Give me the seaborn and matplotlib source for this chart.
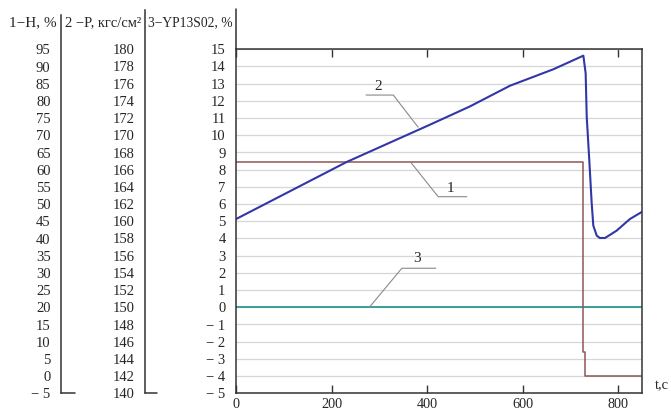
import matplotlib
matplotlib.use("Agg")
import matplotlib.pyplot as plt
from matplotlib.lines import Line2D
import seaborn as sns
import numpy as np

# ---------------- data ----------------
# curve 1: H, %
t_h = [0, 726.6, 726.6, 730, 730, 850]
h_vals = [62.25, 62.25, 6.95, 6.95, 0.0, 0.0]
# curve 2: P, kgf/cm2
t_p = [0, 231.6, 406, 489.5, 573, 664, 726.7, 731.5, 733.7, 739, 744,
       747.5, 754.6, 761, 772, 796, 824, 850]
p_vals = [160.26, 166.9, 171.24, 173.36, 175.76, 177.68, 179.26, 177.2,
          172.2, 167.2, 162.2, 159.5, 158.34, 158.06, 158.06, 158.9,
          160.26, 161.12]
# curve 3: YP13S02, %
t_y = [0, 850]
y_vals = [0.0, 0.0]

main_ticks = list(range(-5, 16))
h_ticks = list(range(-5, 100, 5))
p_ticks = list(range(140, 181, 2))
x_ticks = [0, 200, 400, 600, 800]

headers = ["1−H, %", "2 −P, кгс/см²", "3−YP13S02, %"]

# common axis conversions (scales of the original chart)
def h_to_axis(v):
    return (np.asarray(v, float) - 20) / 5

def p_to_axis(v):
    return (np.asarray(v, float) - 150) / 2

def fmt(v):
    return f"− {abs(v)}" if v < 0 else str(v)

# ---------------- style ----------------
sns.set_style("white")
plt.rcParams['font.family'] = ['Liberation Serif', 'DejaVu Serif']
plt.rcParams['font.size'] = 10

W, H = 671, 413
fig = plt.figure(figsize=(W / 100, H / 100), dpi=100)

def fx(px):
    return px / W

def fy(py):
    return 1 - py / H

top_px, bot_px, left_px, right_px = 49.3, 393.3, 236, 642.3
ppu = (bot_px - top_px) / 20.0

ax = fig.add_axes([fx(left_px), fy(bot_px), fx(right_px - left_px),
                   (bot_px - top_px) / H])
ax.set_xlim(0, 850)
ax.set_ylim(-5, 15)

ax.set_yticks(main_ticks)
ax.set_yticklabels([fmt(v) for v in main_ticks])
ax.yaxis.grid(True, color="#d6d6d6", lw=0.9)
ax.xaxis.grid(False)
ax.set_axisbelow(True)
ax.tick_params(axis="y", length=0, pad=7.5, labelsize=10.5)
ax.set_xticks(x_ticks)
ax.set_xticklabels([str(v) for v in x_ticks])
ax.tick_params(axis="x", direction="in", length=6, width=1, top=True,
               bottom=True, pad=3.5, labelsize=10.3, color="#333333")
for s in ax.spines.values():
    s.set_visible(True)
    s.set_color("#333333")
    s.set_linewidth(1.1)

sns.lineplot(x=t_y, y=y_vals, ax=ax, color="#3a9c9c", lw=1.4,
             estimator=None, sort=False)
sns.lineplot(x=t_h, y=h_to_axis(h_vals), ax=ax, color="#8e5656", lw=1.1,
             estimator=None, sort=False)
sns.lineplot(x=t_p, y=p_to_axis(p_vals), ax=ax, color="#3236a6", lw=1.5,
             estimator=None, sort=False)
ax.set_xlabel("")
ax.set_ylabel("")

# extended left spine above plot
ax.plot([0, 0], [1, 1 + (top_px - 9) / (bot_px - top_px)],
        transform=ax.transAxes, color="#333333", lw=1.1, clip_on=False)

# leader lines and labels
lc = "#8a8a8a"
ax.plot([272, 329, 381], [12.34, 12.34, 10.47], color=lc, lw=0.8)
ax.text(297, 12.83, "2", ha="center", va="center", fontsize=11)
ax.plot([483, 423, 365], [6.43, 6.43, 8.45], color=lc, lw=0.8)
ax.text(448, 6.88, "1", ha="center", va="center", fontsize=11)
ax.plot([418, 347, 279], [2.27, 2.27, 0.0], color=lc, lw=0.8)
ax.text(378, 2.85, "3", ha="center", va="center", fontsize=11)

fig.text(fx(662), fy(386), "t,c", ha="center", va="center", fontsize=10.5)

# left scale columns
def column(line_px, line_top, ticks, conv, stub_end):
    cax = fig.add_axes([fx(line_px), fy(bot_px), 0.0001,
                        (bot_px - line_top) / H])
    cax.set_ylim(-5, 15 + (top_px - line_top) / ppu)
    cax.set_facecolor("none")
    for k, s in cax.spines.items():
        s.set_visible(k == "left")
    cax.spines["left"].set_color("#333333")
    cax.spines["left"].set_linewidth(1.1)
    cax.set_xticks([])
    cax.set_yticks(conv(ticks))
    cax.set_yticklabels([fmt(v) for v in ticks])
    cax.tick_params(axis="y", length=0, pad=7.5, labelsize=10.5)
    fig.add_artist(Line2D([fx(line_px), fx(stub_end)], [fy(bot_px - 0.5)] * 2,
                          transform=fig.transFigure, color="#333333", lw=1.1))
    return cax

column(61, 15, h_ticks, h_to_axis, 75)
column(145, 10, p_ticks, p_to_axis, 157)

fig.text(fx(9), fy(23), headers[0], ha="left", va="center", fontsize=11)
fig.text(fx(65), fy(23), headers[1], ha="left", va="center", fontsize=10.5)
fig.text(fx(148), fy(23), headers[2], ha="left", va="center", fontsize=9.8)

fig.savefig("out.png", dpi=100)
